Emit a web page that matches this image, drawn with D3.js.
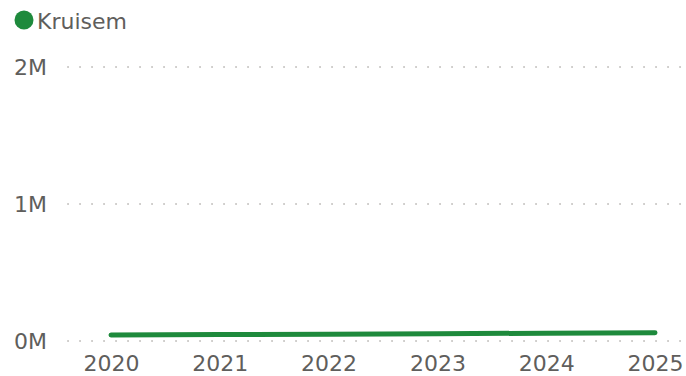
<!DOCTYPE html>
<html>
<head>
<meta charset="utf-8">
<script src="https://cdn.jsdelivr.net/npm/d3@7"></script>
<style>
  html, body { margin: 0; padding: 0; background: #fff; }
  svg { display: block; font-family: "DejaVu Sans", sans-serif; }
</style>
</head>
<body>
<svg id="chart" width="686" height="376"></svg>
<script>
const years = ["2020", "2021", "2022", "2023", "2024", "2025"];
const seriesName = "Kruisem";
const values = [44000, 47000, 50000, 53000, 57000, 60000];
const yTicks = [0, 1000000, 2000000];
const yTickLabels = ["0M", "1M", "2M"];

const W = 686, H = 376;
const svg = d3.select("#chart");
const green = "#1e8a3c";
const textCol = "#5f5e5c";
const FONT = "'DejaVu Sans', sans-serif";

const x = d3.scalePoint().domain(years).range([111, 655]);
const y = d3.scaleLinear().domain([0, 2000000]).range([341, 67]);

// gridlines
const grid = svg.append("g");
grid.selectAll("line").data(yTicks).join("line")
  .attr("x1", 68).attr("x2", W)
  .attr("y1", d => y(d)).attr("y2", d => y(d))
  .attr("stroke", "#c8c6c4").attr("stroke-width", 2)
  .attr("stroke-linecap", "round")
  .attr("stroke-dasharray", "0.1,11.9");

// y axis labels
const yAxis = d3.axisLeft(y).tickValues(yTicks)
  .tickFormat((d, i) => yTickLabels[i]).tickSize(0).tickPadding(0);
const yg = svg.append("g").attr("transform", "translate(47,0)").call(yAxis);
yg.select(".domain").remove();
yg.selectAll("text").attr("fill", textCol).style("font-size", "22px")
  .style("font-family", FONT);

// x axis labels
const xAxis = d3.axisBottom(x).tickSize(0).tickPadding(0);
const xg = svg.append("g").attr("transform", "translate(0,355)").call(xAxis);
xg.select(".domain").remove();
xg.selectAll("text").attr("fill", textCol).style("font-size", "22px")
  .style("font-family", FONT);

// line
const line = d3.line().x((d, i) => x(years[i])).y(d => y(d));
svg.append("path").datum(values)
  .attr("d", line)
  .attr("fill", "none")
  .attr("stroke", green)
  .attr("stroke-width", 5)
  .attr("stroke-linecap", "round")
  .attr("stroke-linejoin", "round");

// legend
const lg = svg.append("g");
lg.append("circle").attr("cx", 24).attr("cy", 20).attr("r", 9.5).attr("fill", green);
lg.append("text").attr("x", 37).attr("y", 29)
  .attr("fill", textCol).style("font-size", "22px").style("font-family", FONT).text(seriesName);
</script>
</body>
</html>
